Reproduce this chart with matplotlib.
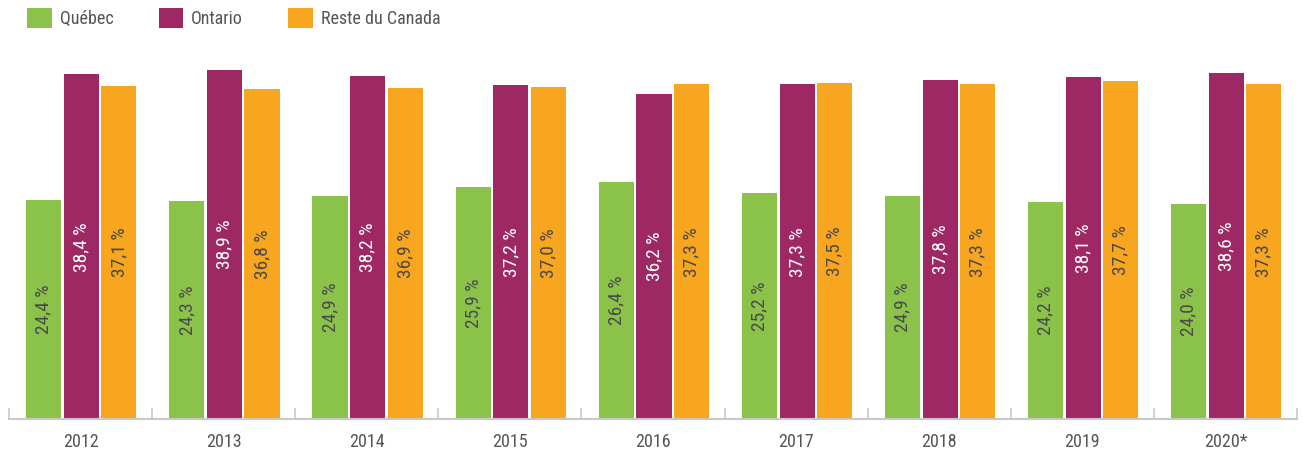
import numpy as np
import matplotlib.pyplot as plt
from matplotlib import font_manager

# Data
years = ['2012', '2013', '2014', '2015', '2016', '2017', '2018', '2019', '2020*']
quebec = [24.4, 24.3, 24.9, 25.9, 26.4, 25.2, 24.9, 24.2, 24.0]
ontario = [38.4, 38.9, 38.2, 37.2, 36.2, 37.3, 37.8, 38.1, 38.6]
reste = [37.1, 36.8, 36.9, 37.0, 37.3, 37.5, 37.3, 37.7, 37.3]
series_names = ['Québec', 'Ontario', 'Reste du Canada']

# Style
colors = ['#8bc34a', '#9e2863', '#f8a51f']
label_colors = ['#4a4a4a', 'white', '#4a4a4a']
text_gray = '#555555'
axis_gray = '#c8c8c8'

names = {f.name for f in font_manager.fontManager.ttflist}
for fam in ['Roboto Condensed', 'Liberation Sans Narrow', 'Roboto', 'DejaVu Sans']:
    if fam in names:
        plt.rcParams['font.family'] = [fam, 'DejaVu Sans']
        break

W, H = 1307, 455
fig = plt.figure(figsize=(W / 100, H / 100), dpi=100)
# axes: left 9px, right 1297px, baseline at 419px
ax = fig.add_axes([9 / W, (H - 419) / H, 1288 / W, 419 / H])

x = np.arange(len(years)) + 0.5
offsets = [-0.257, 0.007, 0.268]
width = 0.245

for vals, off, col, lcol, name in zip([quebec, ontario, reste], offsets, colors, label_colors, series_names):
    bars = ax.bar(x + off, vals, width=width, color=col, label=name)
    for b, v in zip(bars, vals):
        ax.text(b.get_x() + b.get_width() / 2, v / 2, f'{v:.1f} %'.replace('.', ','),
                rotation=90, ha='center', va='center', color=lcol, fontsize=14)

ax.set_xlim(0, len(years))
ax.set_ylim(0, 46.7)

for s in ['top', 'right', 'left']:
    ax.spines[s].set_visible(False)
ax.spines['bottom'].set_color(axis_gray)
ax.spines['bottom'].set_linewidth(1.5)
ax.set_yticks([])

# group separators as inward major ticks, year labels on minor ticks
ax.set_xticks(np.arange(len(years) + 1))
ax.set_xticklabels([])
ax.tick_params(axis='x', which='major', direction='in', length=8, width=1.2, color=axis_gray)
ax.set_xticks(x, minor=True)
ax.set_xticklabels(years, minor=True, fontsize=13, color=text_gray)
ax.tick_params(axis='x', which='minor', length=0, pad=10)

fig.legend(loc='upper left', bbox_to_anchor=(20 / W, 1 - 1 / H), ncol=3, frameon=False,
           fontsize=13, handlelength=1.35, handleheight=1.35, handletextpad=0.45,
           columnspacing=2.5, labelcolor=text_gray, borderaxespad=0)

fig.savefig('out.png', dpi=100)
